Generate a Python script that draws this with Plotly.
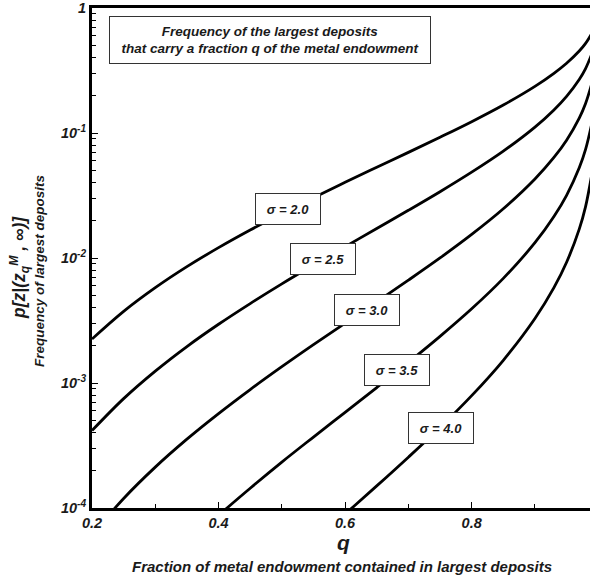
import plotly.graph_objects as go

# Data
q_vals = [0.20, 0.25, 0.30, 0.35, 0.40, 0.45, 0.50, 0.55, 0.60, 0.65, 0.70,
          0.75, 0.80, 0.85, 0.90, 0.93, 0.95, 0.97, 0.98, 0.99]

p_sigma_20 = [0.002246, 0.003741, 0.005790, 0.008530, 0.01210, 0.01674, 0.02275,
              0.03040, 0.04030, 0.05316, 0.06998, 0.09245, 0.1232, 0.1675, 0.2361,
              0.3002, 0.3614, 0.4526, 0.5214, 0.6279]
p_sigma_25 = [0.000416, 0.000750, 0.001245, 0.001958, 0.002951, 0.004320, 0.00621,
              0.008785, 0.01231, 0.01721, 0.02407, 0.03391, 0.04859, 0.07160, 0.1115,
              0.1531, 0.1966, 0.2681, 0.3279, 0.4311]
p_sigma_30 = [6.10e-5, 1.192e-4, 2.123e-4, 3.553e-4, 5.69e-4, 8.86e-4, 0.00135,
              0.002027, 0.003011, 0.004462, 0.006646, 0.01001, 0.01543, 0.02475, 0.04285,
              0.0637, 0.0876, 0.1315, 0.1723, 0.2505]
q_sigma_35 = [0.35, 0.40, 0.45, 0.50, 0.55, 0.60, 0.65, 0.70, 0.75, 0.80, 0.85,
              0.90, 0.93, 0.95, 0.97, 0.98, 0.99]
p_sigma_35 = [5.10e-5, 8.72e-5, 1.439e-4, 2.33e-4, 3.696e-4, 5.83e-4, 9.20e-4, 0.001462,
              0.002362, 0.003923, 0.006871, 0.01325, 0.02146, 0.03173, 0.05267, 0.07399, 0.1202]
q_sigma_40 = [0.55, 0.60, 0.65, 0.70, 0.75, 0.80, 0.85, 0.90, 0.93, 0.95, 0.97, 0.98, 0.99]
p_sigma_40 = [5.34e-5, 8.95e-5, 1.502e-4, 2.550e-4, 4.406e-4, 7.92e-4, 0.001520, 0.003281,
              0.005792, 0.009249, 0.01702, 0.02577, 0.04708]

sigma_labels = ["σ = 2.0", "σ = 2.5", "σ = 3.0", "σ = 3.5", "σ = 4.0"]
label_q = [0.510, 0.565, 0.635, 0.682, 0.751]
label_logp = [-1.608, -2.008, -2.416, -2.896, -3.36]

y_tickvals = [1e-4, 1e-3, 1e-2, 1e-1, 1]
y_ticktext = ["10<sup>-4</sup>", "10<sup>-3</sup>", "10<sup>-2</sup>", "10<sup>-1</sup>", "1"]
x_tickvals = [0.2, 0.4, 0.6, 0.8]
x_ticktext = ["0.2", "0.4", "0.6", "0.8"]

FONT = "Liberation Sans"
TXT = "#1a1a1a"


def bi(s):
    return "<b><i>" + s + "</i></b>"


series = [
    (q_vals, p_sigma_20),
    (q_vals, p_sigma_25),
    (q_vals, p_sigma_30),
    (q_sigma_35, p_sigma_35),
    (q_sigma_40, p_sigma_40),
]

fig = go.Figure()
for xs, ys in series:
    fig.add_trace(go.Scatter(x=xs, y=ys, mode="lines",
                             line=dict(color="black", width=2.8, shape="spline", smoothing=1.0),
                             showlegend=False, hoverinfo="skip"))

tickfont = dict(family=FONT, size=14.5, color=TXT)

fig.update_xaxes(range=[0.2, 0.987], tickvals=x_tickvals, ticktext=[bi(t) for t in x_ticktext],
                 ticks="inside", ticklen=6, tickwidth=1, tickcolor="black",
                 minor=dict(ticks="inside", ticklen=4, tickvals=[0.3, 0.5, 0.7, 0.9],
                            tickcolor="black"),
                 showline=True, linewidth=3, linecolor="black", mirror=True,
                 showgrid=False, zeroline=False, tickfont=tickfont, automargin=False)

minor_y = [m * 10.0 ** e for e in range(-4, 0) for m in range(2, 10)]
fig.update_yaxes(type="log", range=[-4, 0], tickvals=y_tickvals, ticktext=[bi(t) for t in y_ticktext],
                 ticks="inside", ticklen=6, tickwidth=1, tickcolor="black",
                 minor=dict(ticks="inside", ticklen=4, tickvals=minor_y, tickcolor="black"),
                 showline=True, linewidth=3, linecolor="black",
                 showgrid=False, zeroline=False, tickfont=tickfont, automargin=False)


def px_x(px):
    return (px - 92) / 498.0


def px_y(py):
    return (508 - py) / 500.0


annots = []
for lab, xq, yl in zip(sigma_labels, label_q, label_logp):
    annots.append(dict(x=xq, y=yl, xref="x", yref="y", text=bi(lab), showarrow=False,
                       xanchor="center", yanchor="middle",
                       font=dict(family=FONT, size=13, color=TXT),
                       bgcolor="white", bordercolor="#333333", borderwidth=1,
                       width=62, height=28, align="center"))

# title box
annots.append(dict(x=px_x(270), y=px_y(40), xref="paper", yref="paper",
                   xanchor="center", yanchor="middle",
                   text=bi("Frequency of the largest deposits<br>that carry a fraction q of the metal endowment"),
                   showarrow=False,
                   font=dict(family=FONT, size=13.5, color=TXT),
                   bgcolor="white", bordercolor="#333333", borderwidth=1,
                   width=318, height=44, align="center"))

# y-axis labels
annots.append(dict(x=px_x(19), y=px_y(268), xref="paper", yref="paper",
                   xanchor="center", yanchor="middle",
                   text=bi("p[z|(z<sub>q</sub><sup>M</sup> , ∞)]"), textangle=-90, showarrow=False,
                   font=dict(family=FONT, size=17.5, color=TXT)))
annots.append(dict(x=px_x(39), y=px_y(271), xref="paper", yref="paper",
                   xanchor="center", yanchor="middle",
                   text=bi("Frequency of largest deposits"), textangle=-90, showarrow=False,
                   font=dict(family=FONT, size=13.5, color=TXT)))
# x-axis labels
annots.append(dict(x=px_x(343), y=px_y(542), xref="paper", yref="paper",
                   xanchor="center", yanchor="middle",
                   text=bi("q"), showarrow=False,
                   font=dict(family=FONT, size=21, color=TXT)))
annots.append(dict(x=px_x(342), y=px_y(566), xref="paper", yref="paper",
                   xanchor="center", yanchor="middle",
                   text=bi("Fraction of metal endowment contained in largest deposits"), showarrow=False,
                   font=dict(family=FONT, size=15, color=TXT)))

fig.update_layout(width=590, height=577, margin=dict(l=92, r=0, t=8, b=69),
                  paper_bgcolor="white", plot_bgcolor="white", annotations=annots,
                  font=dict(family=FONT, color=TXT))

fig.write_html("out.html", config={"displayModeBar": False},
               post_script="document.body.style.margin='0';")
